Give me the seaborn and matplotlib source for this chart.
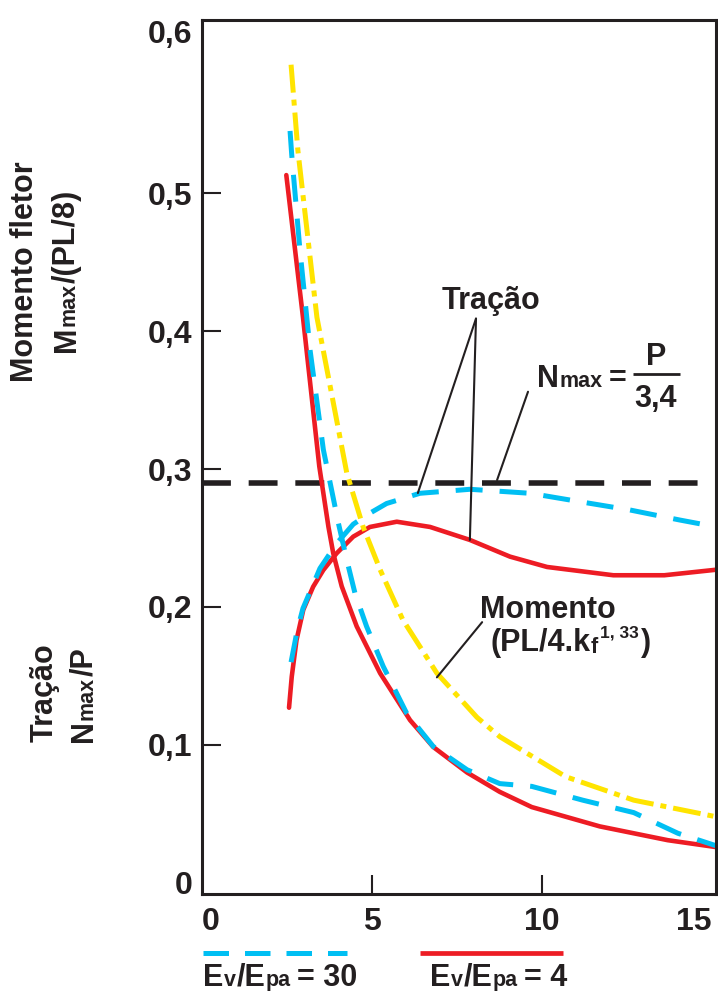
import numpy as np
import pandas as pd
import matplotlib
matplotlib.use("Agg")
import matplotlib.pyplot as plt
import matplotlib.transforms as mtransforms
from matplotlib.lines import Line2D
import seaborn as sns

# ---------------- data ----------------
# Momento, Ev/Epa = 30 (blue dashed)
x_mom_30 = [2.59, 2.64, 2.88, 3.18, 3.57, 4.01, 4.26, 4.50, 4.84, 5.33, 6.02, 6.80, 7.80, 8.76, 9.70, 11.2, 12.7, 14.0, 15.12]
y_mom_30 = [0.545, 0.5275, 0.459, 0.386, 0.314, 0.261, 0.234, 0.210, 0.186, 0.157, 0.123, 0.099, 0.082, 0.072, 0.070, 0.060, 0.051, 0.036, 0.027]

# Momento, Ev/Epa = 4 (red solid)
x_mom_4 = [2.48, 2.97, 3.45, 3.72, 3.86, 4.11, 4.55, 5.24, 6.12, 6.80, 7.80, 8.76, 9.70, 11.7, 13.7, 15.12]
y_mom_4 = [0.513, 0.410, 0.302, 0.258, 0.239, 0.215, 0.186, 0.152, 0.118, 0.0986, 0.080, 0.066, 0.055, 0.041, 0.031, 0.026]

# Momento (PL/4.kf^1,33) (yellow dash-dot)
x_mom_ref = [2.62, 2.82, 3.38, 4.26, 4.74, 5.24, 5.91, 6.91, 8.09, 8.76, 10.7, 12.7, 15.12]
y_mom_ref = [0.593, 0.531, 0.410, 0.297, 0.258, 0.227, 0.1906, 0.152, 0.120, 0.106, 0.077, 0.060, 0.048]

# Tracao, Ev/Epa = 30 (blue dashed)
x_tra_30 = [2.62, 2.80, 2.97, 3.47, 3.96, 4.45, 4.94, 5.43, 6.41, 7.88, 9.65, 11.12, 12.59, 14.06, 15.14]
y_tra_30 = [0.160, 0.183, 0.199, 0.228, 0.246, 0.260, 0.268, 0.275, 0.2824, 0.2853, 0.2824, 0.2763, 0.2703, 0.263, 0.258]

# Tracao, Ev/Epa = 4 (red solid)
x_tra_4 = [2.56, 2.64, 2.78, 2.98, 3.27, 3.57, 3.96, 4.45, 4.94, 5.73, 6.71, 7.88, 9.06, 10.15, 12.1, 13.6, 15.12]
y_tra_4 = [0.127, 0.1495, 0.176, 0.198, 0.2147, 0.2268, 0.2389, 0.251, 0.258, 0.2618, 0.258, 0.2486, 0.2365, 0.229, 0.223, 0.223, 0.227]

# N max = P / 3,4 (black dashed)
x_nmax = [0.0, 15.12]
y_nmax = [0.29, 0.29]

xtick_values = [0, 5, 10, 15]
xtick_labels = ["0", "5", "10", "15"]
ytick_values = [0, 0.1, 0.2, 0.3, 0.4, 0.5, 0.6]
ytick_labels = ["0", "0,1", "0,2", "0,3", "0,4", "0,5", "0,6"]

legend_values = ["30", "4"]

# ---------------- style ----------------
RED = "#ED1C24"
BLUE = "#00BFF3"
YELLOW = "#FFE400"
BLACK = "#231F20"

sns.set_theme(style="white")
plt.rcParams["font.family"] = ["Liberation Sans", "DejaVu Sans"]
plt.rcParams["font.weight"] = "bold"

W, H = 718, 994
fig = plt.figure(figsize=(W / 100, H / 100), dpi=100)
fig.patch.set_facecolor("white")
renderer = fig.canvas.get_renderer()
IDT = mtransforms.IdentityTransform()


def fx(p):
    return p / W


def fy(p):
    return 1 - p / H


def draw_runs(x, y, runs, rotation=0, center=False):
    """Draw text pieces one after another on a common baseline.
    x, y: start (or centre if center=True) of the baseline, pixels from top-left.
    runs: list of (text, fontsize, raise_px, gap_before_px)."""
    items = []
    total = 0.0
    for s, size, rise, gap in runs:
        t = fig.text(0, 0, s, fontsize=size, fontweight="bold", color=BLACK,
                     transform=IDT, ha="left", va="baseline",
                     rotation=rotation, rotation_mode="anchor")
        w, _, _ = renderer.get_text_width_height_descent(s, t.get_fontproperties(), ismath=False)
        total += gap
        items.append((t, total, rise))
        total += w
    start = -total / 2 if center else 0.0
    for t, off, rise in items:
        if rotation == 0:
            t.set_position((x + start + off, H - y + rise))
        else:
            t.set_position((x - rise, H - y + start + off))


ax = fig.add_axes([fx(202), fy(894), (716 - 202) / W, (894 - 20) / H])
ax.set_facecolor("white")

# lines
sns.lineplot(x=x_nmax, y=y_nmax, ax=ax, color=BLACK, lw=4.0,
             linestyle=(0, (5.2, 3.2)), errorbar=None, sort=False)
sns.lineplot(x=x_mom_4, y=y_mom_4, ax=ax, color=RED, lw=3.3, errorbar=None)
sns.lineplot(x=x_tra_4, y=y_tra_4, ax=ax, color=RED, lw=3.3, errorbar=None)
sns.lineplot(x=x_mom_ref, y=y_mom_ref, ax=ax, color=YELLOW, lw=3.6,
             linestyle=(0, (5.6, 1.4, 1.2, 1.4)), errorbar=None)
sns.lineplot(x=x_mom_30, y=y_mom_30, ax=ax, color=BLUE, lw=3.6,
             linestyle=(0, (5.4, 3.4)), errorbar=None)
sns.lineplot(x=x_tra_30, y=y_tra_30, ax=ax, color=BLUE, lw=3.6,
             linestyle=(0, (5.4, 3.4)), errorbar=None)

ax.set_xlim(0, 15.12)
ax.set_ylim(-0.008, 0.6254)
ax.set_xlabel("")
ax.set_ylabel("")

for s in ax.spines.values():
    s.set_linewidth(2.2)
    s.set_color(BLACK)
    s.set_visible(True)

ax.set_xticks(xtick_values)
ax.set_xticklabels(xtick_labels, fontsize=23, fontweight="bold", color=BLACK)
ax.set_yticks(ytick_values)
ax.set_yticklabels(ytick_labels, fontsize=23, fontweight="bold", color=BLACK)
ax.tick_params(axis="both", which="major", direction="in", length=14, width=1.5,
               color=BLACK, bottom=True, left=True)
ax.tick_params(axis="x", pad=9)
ax.tick_params(axis="y", pad=7)

xt = ax.xaxis.get_major_ticks()
yt = ax.yaxis.get_major_ticks()
for t in (xt[0], xt[-1], yt[0], yt[-1]):
    t.tick1line.set_visible(False)
xt[0].label1.set_horizontalalignment("left")
xt[-1].label1.set_horizontalalignment("right")
lab6 = yt[-1].label1
lab6.set_transform(lab6.get_transform() +
                   mtransforms.ScaledTranslation(0, 24 / 100, fig.dpi_scale_trans))

# annotation leader lines
lk = dict(arrowstyle="-", color=BLACK, lw=1.5, shrinkA=0, shrinkB=0)
ax.annotate("", xy=(6.35, 0.2826), xytext=(8.06, 0.409), arrowprops=lk)
ax.annotate("", xy=(7.88, 0.2486), xytext=(8.06, 0.409), arrowprops=lk)
ax.annotate("", xy=(8.68, 0.292), xytext=(9.59, 0.356), arrowprops=lk)
ax.annotate("", xy=(6.91, 0.149), xytext=(8.24, 0.189), arrowprops=lk)

BIG, SMALL = 22, 15.5
# "Tração"
draw_runs(491, 309, [("Tração", BIG, 0, 0)], center=True)
# N max = P / 3,4
draw_runs(537, 387, [("N", BIG, 0, 0), ("max", SMALL, 0, 1), ("=", BIG, 0, 6)])
draw_runs(656, 365, [("P", BIG, 0, 0)], center=True)
draw_runs(656, 407, [("3,4", BIG, 0, 0)], center=True)
fig.add_artist(Line2D([fx(633), fx(680)], [fy(374), fy(374)], transform=fig.transFigure,
                      color=BLACK, lw=2.0, solid_capstyle="butt"))
# Momento (PL/4.kf^1,33)
draw_runs(480, 618, [("Momento", BIG, 0, 0)])
draw_runs(490, 651, [("(PL/4.k", BIG, 0, 0), ("f", SMALL, -2, 1),
                     ("1, 33", 12.5, 14, 2), (")", BIG, 0, 2)])

# side labels (rotated)
draw_runs(33, 272, [("Momento fletor", BIG, 0, 0)], rotation=90, center=True)
draw_runs(75, 271, [("M", BIG, 0, 0), ("max", SMALL, 0, 1), ("/(PL/8)", BIG, 0, 0)],
          rotation=90, center=True)
draw_runs(53, 693, [("Tração", BIG, 0, 0)], rotation=90, center=True)
draw_runs(92, 695, [("N", BIG, 0, 0), ("max", SMALL, 0, 1), ("/P", BIG, 0, 0)],
          rotation=90, center=True)

# legend keys below the axes
fig.add_artist(Line2D([fx(203), fx(347)], [fy(953), fy(953)], transform=fig.transFigure,
                      color=BLUE, lw=3.6, linestyle=(0, (5.1, 3.2))))
fig.add_artist(Line2D([fx(420), fx(563)], [fy(953), fy(953)], transform=fig.transFigure,
                      color=RED, lw=3.4, solid_capstyle="butt"))
for x0, val in zip([203, 430], legend_values):
    draw_runs(x0, 986, [("E", BIG, 0, 0), ("v", SMALL, 0, 1), ("/E", BIG, 0, 0),
                        ("pa", SMALL, 0, 0), ("= " + val, BIG, 0, 7)])

fig.savefig("out.png", dpi=100, facecolor="white")
